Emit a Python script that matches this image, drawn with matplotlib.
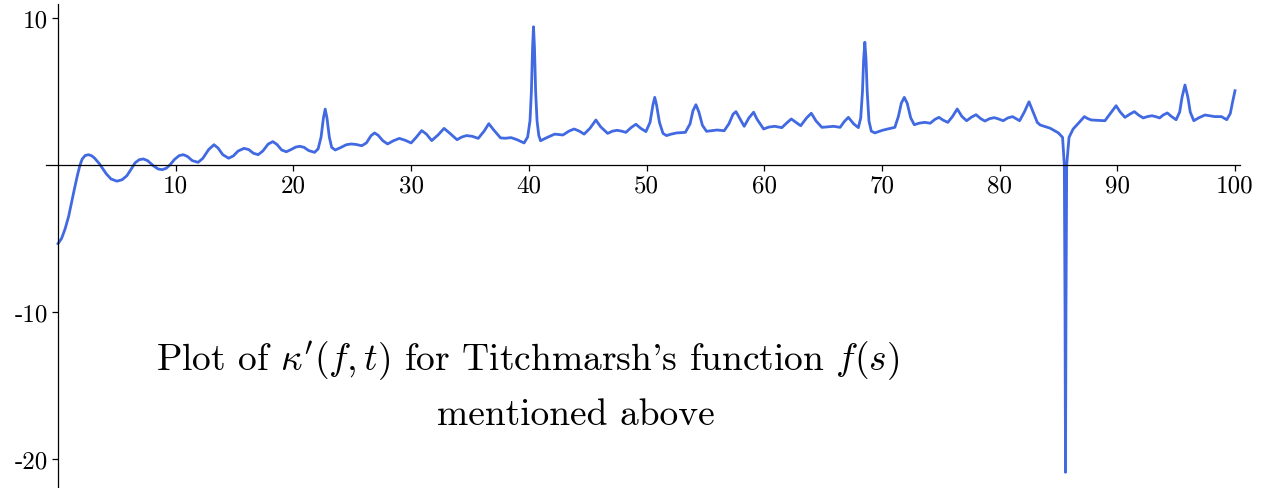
import matplotlib.pyplot as plt

plt.rcParams['font.family'] = 'cmr10'
plt.rcParams['mathtext.fontset'] = 'cm'
plt.rcParams['axes.unicode_minus'] = False
plt.rcParams['axes.formatter.use_mathtext'] = True

# valores (t, kappa')
t = [0.0, 0.3, 0.6, 0.9, 1.16, 1.4, 1.64, 1.85, 2.05, 2.3, 2.58, 2.85, 3.1, 3.5, 4.1, 4.5,
     5.0, 5.45, 5.85, 6.2, 6.55, 6.9, 7.25, 7.6, 8.1, 8.5, 8.86, 9.2, 9.5, 9.9,
     10.3, 10.65, 11.0, 11.4, 11.9, 12.3, 12.8, 13.25, 13.6, 14.0, 14.5, 14.9,
     15.3, 15.8, 16.2, 16.6, 17.0, 17.4, 17.85, 18.25, 18.6, 19.0, 19.4, 19.8,
     20.2, 20.55, 20.9, 21.3, 21.8, 22.1, 22.35, 22.55, 22.7, 22.85, 23.05, 23.25,
     23.55, 24.0, 24.5, 24.9, 25.3, 25.8, 26.2, 26.6, 26.9, 27.2, 27.6, 28.0,
     28.5, 29.0, 29.5, 30.0, 30.4, 30.9, 31.3, 31.75, 32.3, 32.8, 33.3, 33.9,
     34.3, 34.7, 35.2, 35.7, 36.2, 36.6, 37.0, 37.6, 38.0, 38.5, 39.0, 39.6,
     39.9, 40.1, 40.22, 40.32, 40.4, 40.48, 40.58, 40.7, 40.85, 41.0,
     41.5, 42.2, 42.9, 43.4, 43.85, 44.3, 44.7, 45.2, 45.7, 46.1, 46.7, 47.1,
     47.5, 47.9, 48.25, 48.7, 49.1, 49.5, 49.95, 50.3, 50.55, 50.7, 50.85, 51.1,
     51.4, 51.7, 52.1, 52.55, 53.3, 53.7, 53.95, 54.2, 54.45, 54.75, 55.1, 56.0,
     56.6, 57.0, 57.35, 57.6, 57.9, 58.3, 58.7, 59.1, 59.4, 59.95, 60.4, 60.9,
     61.5, 61.9, 62.3, 62.7, 63.1, 63.6, 64.0, 64.4, 64.9, 65.9, 66.45, 66.8,
     67.15, 67.6, 68.0, 68.2, 68.35, 68.45, 68.55, 68.65, 68.75, 68.9, 69.1, 69.4,
     70.0, 70.5, 71.1, 71.4, 71.65, 71.9, 72.15, 72.45, 72.75, 73.2, 73.65, 74.1,
     74.5, 74.85, 75.2, 75.6, 76.0, 76.4, 76.8, 77.2, 77.6, 78.0, 78.4, 78.75,
     79.15, 79.55, 79.95, 80.3, 80.7, 81.1, 81.4, 81.7, 82.1, 82.5, 82.85, 83.2,
     83.45, 84.3, 85.0, 85.35, 85.5, 85.56, 85.6, 85.64, 85.7, 85.9, 86.25, 86.7,
     87.2, 87.5, 87.8, 88.4, 88.95, 89.5, 89.9, 90.25, 90.65, 91.05, 91.45, 91.8,
     92.2, 92.6, 92.95, 93.3, 93.6, 93.9, 94.25, 94.6, 95.0, 95.3, 95.5, 95.75,
     96.0, 96.2, 96.5, 96.9, 97.45, 98.3, 98.85, 99.3, 99.6, 99.8, 100.0]
kappa = [-5.35, -5.0, -4.35, -3.5, -2.5, -1.6, -0.73, -0.05, 0.4, 0.64, 0.7, 0.63, 0.47, 0.1, -0.6, -0.95,
         -1.1, -1.0, -0.73, -0.3, 0.15, 0.36, 0.41, 0.3, -0.05, -0.27, -0.32, -0.22, 0.0, 0.38,
         0.64, 0.7, 0.58, 0.3, 0.18, 0.45, 1.05, 1.38, 1.15, 0.7, 0.46, 0.62,
         0.95, 1.13, 1.05, 0.8, 0.7, 0.95, 1.42, 1.59, 1.4, 1.02, 0.9, 1.05,
         1.22, 1.27, 1.2, 0.98, 0.86, 1.1, 1.9, 3.2, 3.8, 3.2, 1.9, 1.2,
         1.02, 1.18, 1.38, 1.43, 1.4, 1.31, 1.5, 2.0, 2.18, 2.02, 1.65, 1.43,
         1.65, 1.81, 1.68, 1.5, 1.85, 2.34, 2.1, 1.66, 2.05, 2.49, 2.15, 1.72,
         1.9, 2.0, 1.95, 1.81, 2.3, 2.81, 2.4, 1.84, 1.82, 1.86, 1.72, 1.5,
         1.9, 3.0, 5.0, 8.0, 9.4, 8.0, 5.0, 3.0, 2.0, 1.65,
         1.85, 2.1, 2.04, 2.3, 2.45, 2.3, 2.1, 2.5, 3.06, 2.6, 2.15, 2.3,
         2.36, 2.3, 2.22, 2.55, 2.77, 2.5, 2.27, 2.9, 4.1, 4.6, 4.1, 2.9,
         2.15, 2.0, 2.1, 2.18, 2.22, 2.8, 3.7, 4.1, 3.6, 2.7, 2.29, 2.38,
         2.33, 2.8, 3.45, 3.63, 3.2, 2.63, 3.2, 3.59, 3.1, 2.45, 2.58, 2.63,
         2.54, 2.85, 3.13, 2.9, 2.67, 3.2, 3.52, 3.0, 2.56, 2.63, 2.56, 2.95,
         3.24, 2.8, 2.54, 3.2, 5.0, 7.2, 8.35, 7.2, 5.0, 3.0, 2.3, 2.18,
         2.35, 2.45, 2.56, 3.3, 4.2, 4.6, 4.2, 3.2, 2.74, 2.85, 2.9, 2.84,
         3.1, 3.24, 3.05, 2.9, 3.3, 3.81, 3.3, 3.01, 3.25, 3.42, 3.15, 2.99,
         3.15, 3.22, 3.12, 3.01, 3.2, 3.29, 3.15, 3.01, 3.6, 4.3, 3.6, 2.9,
         2.72, 2.5, 2.18, 1.88, 0.0, -10.0, -20.9, -10.0, 0.0, 1.88, 2.45, 2.84,
         3.29, 3.15, 3.06, 3.03, 3.01, 3.6, 4.03, 3.6, 3.24, 3.45, 3.63, 3.4,
         3.2, 3.3, 3.35, 3.28, 3.2, 3.4, 3.54, 3.3, 3.08, 3.6, 4.6, 5.44,
         4.6, 3.6, 3.01, 3.2, 3.4, 3.29, 3.29, 3.08, 3.5, 4.3, 5.05]

xticks = [10, 20, 30, 40, 50, 60, 70, 80, 90, 100]
yticks = [-20, -10, 10]

fig = plt.figure(figsize=(12.67, 4.89), dpi=100)
ax = fig.add_axes([0, 0, 1, 1])

# la curva
ax.plot(t, kappa, color='#4169E1', linewidth=2.0)

# ejes cruzando en el origen
ax.set_xlim(-4.93, 102.72)
ax.set_ylim(-21.97, 11.29)
ax.spines['top'].set_visible(False)
ax.spines['right'].set_visible(False)
ax.spines['left'].set_position(('data', 0))
ax.spines['bottom'].set_position(('data', 0))
ax.spines['left'].set_bounds(-22, 10.95)
ax.spines['bottom'].set_bounds(-1.0, 100.45)
ax.spines['left'].set_linewidth(0.9)
ax.spines['bottom'].set_linewidth(0.9)

ax.set_xticks(xticks)
ax.set_xticklabels([str(v) for v in xticks])
ax.set_yticks(yticks)
ax.set_yticklabels([str(v) for v in yticks])
ax.tick_params(direction='out', length=4, width=0.9, labelsize=18, pad=3)

# texto descriptivo (dos lineas, la segunda algo corrida a la derecha)
ax.text(39.93, -13.88, "Plot of $\\kappa'(f,t)$ for Titchmarsh's function $f(s)$",
        ha='center', va='baseline', fontsize=27)
ax.text(44.0, -17.62, "mentioned above",
        ha='center', va='baseline', fontsize=27)

fig.savefig('out.png', dpi=100)
